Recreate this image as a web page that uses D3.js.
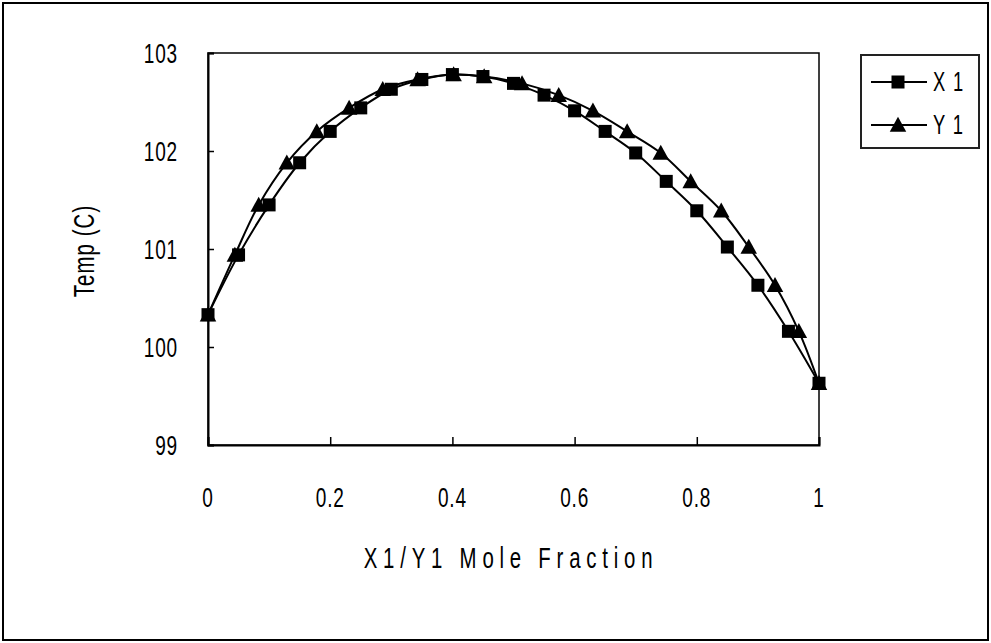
<!DOCTYPE html>
<html><head><meta charset="utf-8">
<script src="https://cdn.jsdelivr.net/npm/d3@7"></script>
<style>
html,body{margin:0;padding:0;background:#fff;}
text{font-family:"Liberation Sans",Arial,sans-serif;fill:#000;}
</style></head><body>
<svg id="chart" width="991" height="643"></svg>
<script>
// ---- data ----
const tempC = [100.33,100.94,101.45,101.88,102.20,102.44,102.63,102.73,102.78,102.76,102.69,102.57,102.41,102.20,101.98,101.69,101.39,101.02,100.63,100.16,99.63];
const x1Values = [0,0.05,0.10,0.15,0.20,0.25,0.30,0.35,0.40,0.45,0.50,0.55,0.60,0.65,0.70,0.75,0.80,0.85,0.90,0.95,1.00];
const y1Values = [0,0.044,0.083,0.129,0.178,0.231,0.286,0.343,0.402,0.452,0.514,0.574,0.630,0.686,0.741,0.790,0.840,0.885,0.928,0.967,1.00];
const xTicks = [0,0.2,0.4,0.6,0.8,1];
const xTickLabels = ["0","0.2","0.4","0.6","0.8","1"];
const yTicks = [99,100,101,102,103];
const seriesNames = ["X1","Y1"];
const legendLabels = ["X 1","Y 1"];

// ---- layout ----
const svg = d3.select("#chart");
const L = 208, R = 819, T = 53, B = 445;
const x = d3.scaleLinear().domain([0,1]).range([L,R]);
const y = d3.scaleLinear().domain([99,103]).range([B,T]);
const SX = 0.68; // horizontal condense for narrow font look

function condensedText(g, tx, ty, str, size, anchor, spacing, rot) {
  return g.append("text")
    .attr("transform", `translate(${tx},${ty})` + (rot?` rotate(${rot})`:"") + ` scale(${SX},1)`)
    .attr("text-anchor", anchor)
    .attr("font-size", size)
    .attr("letter-spacing", spacing)
    .attr("dominant-baseline", "central")
    .text(str);
}

// outer border
svg.append("rect").attr("x",3).attr("y",3).attr("width",985).attr("height",637)
  .attr("fill","none").attr("stroke","#000").attr("stroke-width",2);

// plot area border
svg.append("rect").attr("x",L).attr("y",T).attr("width",R-L).attr("height",B-T)
  .attr("fill","none").attr("stroke","#000").attr("stroke-width",1.5);

// axes via d3 axis (inner ticks)
const yAxis = d3.axisRight(y).tickValues(yTicks).tickSize(6).tickFormat("");
const gy = svg.append("g").attr("transform",`translate(${L},0)`).call(yAxis);
gy.select(".domain").attr("stroke","#000").attr("stroke-width",2);
gy.selectAll(".tick line").attr("stroke","#000").attr("stroke-width",1.5);

const xAxis = d3.axisTop(x).tickValues(xTicks).tickSize(8).tickFormat("");
const gx = svg.append("g").attr("transform",`translate(0,${B})`).call(xAxis);
gx.select(".domain").attr("stroke","#000").attr("stroke-width",2);
gx.selectAll(".tick line").attr("stroke","#000").attr("stroke-width",1.5);

// tick labels
const lab = svg.append("g");
yTicks.forEach(v => condensedText(lab, 178, y(v), String(v), 28, "end", 1.2));
xTicks.forEach((v,i) => condensedText(lab, x(v), 497, xTickLabels[i], 28, "middle", 1.2));

// axis titles
condensedText(svg, 511, 557, "X1/Y1 Mole Fraction", 30, "middle", 8.5);
condensedText(svg, 83, 251, "Temp (C)", 30, "middle", 1.6, -90);

// lines
const line = d3.line().curve(d3.curveCatmullRom.alpha(0.5));
const ptsX = x1Values.map((v,i)=>[x(v), y(tempC[i])]);
const ptsY = y1Values.map((v,i)=>[x(v), y(tempC[i])]);
const sqSize = 13;
const triPath = (cx,cy,s) => `M${cx},${cy-s*0.55}L${cx+s*0.55},${cy+s*0.45}L${cx-s*0.55},${cy+s*0.45}Z`;

svg.append("path").attr("d", line(ptsX)).attr("fill","none").attr("stroke","#000").attr("stroke-width",2);
svg.append("g").selectAll("rect").data(ptsX).join("rect")
  .attr("x",d=>d[0]-sqSize/2).attr("y",d=>d[1]-sqSize/2)
  .attr("width",sqSize).attr("height",sqSize).attr("fill","#000");

svg.append("path").attr("d", line(ptsY)).attr("fill","none").attr("stroke","#000").attr("stroke-width",2);
svg.append("g").selectAll("path").data(ptsY).join("path")
  .attr("d",d=>triPath(d[0],d[1],15)).attr("fill","#000");

// legend
const lg = svg.append("g");
lg.append("rect").attr("x",861).attr("y",55).attr("width",118).attr("height",93)
  .attr("fill","#fff").attr("stroke","#222").attr("stroke-width",2);
const legY = [82,125];
seriesNames.forEach((n,i)=>{
  lg.append("line").attr("x1",871).attr("x2",927).attr("y1",legY[i]).attr("y2",legY[i])
    .attr("stroke","#000").attr("stroke-width",2);
  if(i===0){
    lg.append("rect").attr("x",898-sqSize/2).attr("y",legY[i]-sqSize/2)
      .attr("width",sqSize).attr("height",sqSize).attr("fill","#000");
  } else {
    lg.append("path").attr("d",triPath(898,legY[i],15)).attr("fill","#000");
  }
  condensedText(lg, 933, legY[i], legendLabels[i], 27, "start", 2);
});
</script>
</body></html>
